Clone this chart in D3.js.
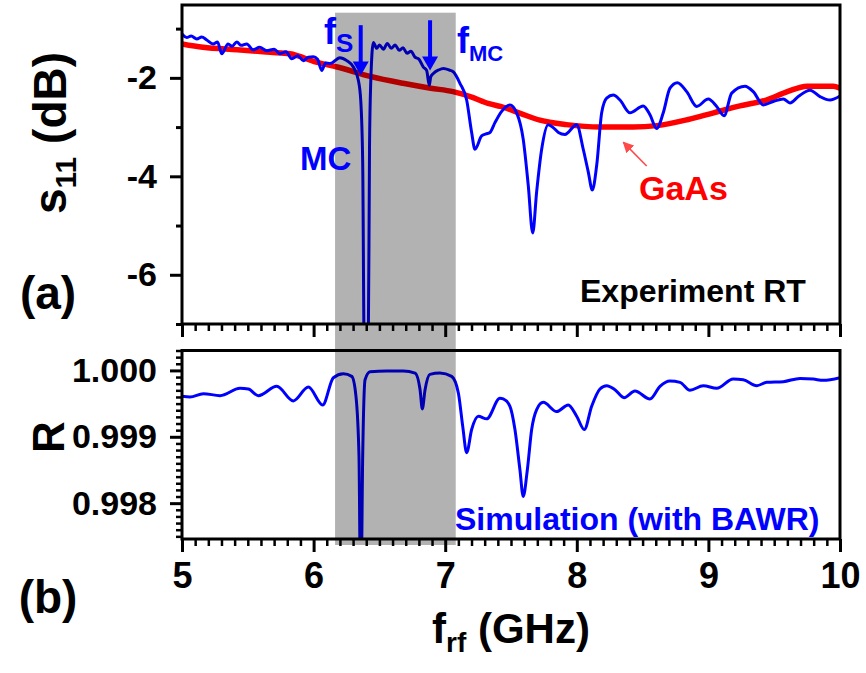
<!DOCTYPE html>
<html>
<head>
<meta charset="utf-8">
<script src="https://cdn.jsdelivr.net/npm/d3@7"></script>
<style>
  body { margin: 0; background: #fff; }
  svg text { font-family: "Liberation Sans", Arial, sans-serif; font-weight: bold; }
</style>
</head>
<body>
<svg id="chart" width="866" height="673"></svg>
<script>
// GaAs reference (red), s11 in dB vs GHz
const gaasFreq = [5.0, 5.16, 5.42, 5.67, 5.82, 6.02, 6.18, 6.43, 6.68, 6.89, 7.06, 7.19, 7.34, 7.42, 7.57, 7.72, 7.92, 8.18, 8.43, 8.61, 8.84, 9.04, 9.24, 9.44, 9.6, 9.75, 9.95, 10.0];
const gaasS11 = [-1.31, -1.38, -1.43, -1.48, -1.51, -1.68, -1.78, -1.97, -2.11, -2.21, -2.28, -2.38, -2.53, -2.58, -2.72, -2.86, -2.95, -3.0, -3.0, -2.97, -2.85, -2.71, -2.57, -2.45, -2.28, -2.17, -2.17, -2.21];

// microcavity sample (blue), s11 in dB vs GHz
const mcFreq = [5.0, 5.036, 5.07, 5.112, 5.15, 5.188, 5.236, 5.27, 5.302, 5.35, 5.38, 5.416, 5.45, 5.492, 5.54, 5.59, 5.644, 5.70, 5.745, 5.79, 5.834, 5.88, 5.922, 5.96, 5.998, 6.03, 6.062, 6.09, 6.125, 6.2, 6.252, 6.302, 6.34, 6.358, 6.373, 6.385, 6.415, 6.425, 6.434, 6.454, 6.48, 6.50, 6.53, 6.56, 6.59, 6.62, 6.65, 6.68, 6.71, 6.74, 6.77, 6.80, 6.834, 6.859, 6.879, 6.89, 6.91, 6.95, 6.986, 7.03, 7.062, 7.112, 7.163, 7.201, 7.226, 7.277, 7.31, 7.34, 7.378, 7.429, 7.492, 7.543, 7.593, 7.631, 7.665, 7.695, 7.733, 7.783, 7.821, 7.86, 7.91, 7.999, 8.049, 8.087, 8.118, 8.151, 8.189, 8.227, 8.277, 8.328, 8.404, 8.505, 8.556, 8.607, 8.657, 8.708, 8.764, 8.835, 8.911, 8.999, 9.063, 9.119, 9.177, 9.278, 9.341, 9.417, 9.493, 9.569, 9.62, 9.683, 9.772, 9.848, 9.924, 10.0];
const mcS11 = [-1.11, -1.18, -1.15, -1.21, -1.17, -1.23, -1.31, -1.27, -1.51, -1.31, -1.36, -1.27, -1.34, -1.31, -1.43, -1.38, -1.45, -1.42, -1.51, -1.47, -1.61, -1.55, -1.65, -1.58, -1.57, -1.62, -1.85, -1.70, -1.71, -1.59, -1.65, -1.78, -2.05, -2.45, -3.71, -7.6, -7.6, -3.38, -2.11, -1.28, -1.40, -1.33, -1.42, -1.30, -1.40, -1.33, -1.44, -1.39, -1.50, -1.46, -1.58, -1.62, -1.78, -1.85, -2.15, -1.98, -1.91, -1.84, -1.81, -1.84, -1.88, -2.11, -2.45, -3.11, -3.45, -3.18, -3.14, -3.11, -2.91, -2.68, -2.55, -2.71, -3.25, -4.18, -5.15, -4.31, -3.45, -2.95, -3.01, -3.11, -3.15, -2.95, -3.45, -3.91, -4.28, -3.78, -2.71, -2.41, -2.35, -2.45, -2.71, -2.57, -2.75, -3.03, -2.71, -2.21, -2.10, -2.28, -2.58, -2.43, -2.58, -2.77, -2.31, -2.17, -2.28, -2.55, -2.48, -2.43, -2.51, -2.38, -2.25, -2.38, -2.45, -2.37];

// simulated reflectance (blue), panel (b)
const simFreq = [5.0, 5.061, 5.162, 5.289, 5.441, 5.504, 5.58, 5.72, 5.846, 5.96, 6.069, 6.15, 6.226, 6.29, 6.322, 6.345, 6.355, 6.362, 6.373, 6.391, 6.429, 6.555, 6.682, 6.771, 6.809, 6.826, 6.847, 6.884, 6.96, 7.049, 7.1, 7.133, 7.163, 7.201, 7.252, 7.315, 7.416, 7.441, 7.492, 7.53, 7.568, 7.593, 7.624, 7.657, 7.695, 7.745, 7.847, 7.935, 7.999, 8.057, 8.113, 8.176, 8.227, 8.29, 8.359, 8.442, 8.556, 8.632, 8.708, 8.784, 8.86, 8.961, 9.063, 9.189, 9.265, 9.367, 9.443, 9.569, 9.696, 9.797, 9.873, 10.0];
const simR = [0.99961, 0.99960, 0.99965, 0.99962, 0.99973, 0.99972, 0.99962, 0.99976, 0.99954, 0.99975, 0.99948, 0.99989, 0.99995, 0.99991, 0.99961, 0.99870, 0.9970, 0.9970, 0.99870, 0.99986, 0.99998, 0.99999, 0.99999, 0.99996, 0.99971, 0.99942, 0.99971, 0.99994, 0.99996, 0.99991, 0.99966, 0.99916, 0.99876, 0.99911, 0.99931, 0.99927, 0.99958, 0.99957, 0.99946, 0.99911, 0.99850, 0.99810, 0.99850, 0.99911, 0.99941, 0.99952, 0.99938, 0.99948, 0.99931, 0.99911, 0.99946, 0.99972, 0.99977, 0.99971, 0.99959, 0.99969, 0.99957, 0.99976, 0.99984, 0.99982, 0.99970, 0.99977, 0.99973, 0.99987, 0.99986, 0.99977, 0.99982, 0.99983, 0.99988, 0.99987, 0.99985, 0.99989];

// tick values
const xMajor = [5, 6, 7, 8, 9, 10];
const s11Major = [-2, -4, -6];
const s11Minor = [-1, -3, -5, -7];
const rMajor = [0.998, 0.999, 1.000];

// shaded band (GHz)
const band = [6.163, 7.08];

const FONT = "'Liberation Sans', Arial, sans-serif";
const svg = d3.select("#chart");

const x = d3.scaleLinear().domain([5, 10]).range([182, 840]);
const yTop = d3.scaleLinear().domain([-7, -0.52]).range([324, 5]);
const yBot = d3.scaleLinear().domain([0.99746, 1.0003]).range([539, 350.5]);

const xMinor = d3.range(50, 101).map(d => d / 10).filter(d => !xMajor.includes(d));
const rMinor = d3.range(9975, 10004).map(d => d / 10000).filter(d => !rMajor.some(m => Math.abs(m - d) < 1e-9));

// clip paths + marker
const defs = svg.append("defs");
defs.append("clipPath").attr("id", "clipTop").append("rect")
    .attr("x", 182).attr("y", 5).attr("width", 658).attr("height", 319);
defs.append("clipPath").attr("id", "clipBot").append("rect")
    .attr("x", 182).attr("y", 350.5).attr("width", 658).attr("height", 188.5);
defs.append("marker").attr("id", "redHead")
    .attr("viewBox", "0 0 10 10").attr("refX", 9).attr("refY", 5)
    .attr("markerUnits", "userSpaceOnUse")
    .attr("markerWidth", 11).attr("markerHeight", 11).attr("orient", "auto")
    .append("path").attr("d", "M0,0L10,5L0,10Z").attr("fill", "#ff4a4a");

// lines
const gaasData = gaasFreq.map((f, i) => ({ f, v: gaasS11[i] }));
const mcData = mcFreq.map((f, i) => ({ f, v: mcS11[i] }));
const simData = simFreq.map((f, i) => ({ f, v: simR[i] }));

const topLine = d3.line().x(d => x(d.f)).y(d => yTop(d.v)).curve(d3.curveMonotoneX);
const botLine = d3.line().x(d => x(d.f)).y(d => yBot(d.v)).curve(d3.curveMonotoneX);

svg.append("path").datum(gaasData)
    .attr("clip-path", "url(#clipTop)")
    .attr("d", topLine)
    .attr("fill", "none").attr("stroke", "#ff0000").attr("stroke-width", 5.5);

svg.append("path").datum(mcData)
    .attr("clip-path", "url(#clipTop)")
    .attr("d", topLine)
    .attr("fill", "none").attr("stroke", "#0000ff").attr("stroke-width", 3)
    .attr("stroke-linejoin", "round");

svg.append("path").datum(simData)
    .attr("clip-path", "url(#clipBot)")
    .attr("d", botLine)
    .attr("fill", "none").attr("stroke", "#0000ff").attr("stroke-width", 3);

// grey band overlay (darkens the lines beneath it)
svg.append("rect")
    .attr("x", x(band[0])).attr("y", 12.7)
    .attr("width", x(band[1]) - x(band[0])).attr("height", 545 - 12.7)
    .attr("fill", "#000").attr("fill-opacity", 0.3);

// axes helpers
function tickAxis(axisFn, scale, values, size) {
    return axisFn(scale).tickValues(values).tickSize(size).tickFormat("");
}

function styleAxis(g, w, fontSize) {
    g.select(".domain").remove();
    g.selectAll(".tick line").attr("stroke", "#000").attr("stroke-width", w);
    g.selectAll(".tick text")
        .attr("font-size", fontSize || 36).attr("fill", "#000")
        .style("font-family", FONT).style("font-weight", "bold");
}

// panel (a) x ticks
svg.append("g").attr("transform", "translate(0,324)")
    .call(tickAxis(d3.axisBottom, x, xMinor, 7)).call(g => styleAxis(g, 2.5));
svg.append("g").attr("transform", "translate(0,324)")
    .call(tickAxis(d3.axisBottom, x, xMajor, 13)).call(g => styleAxis(g, 3));

// panel (b) x ticks + labels
svg.append("g").attr("transform", "translate(0,539)")
    .call(tickAxis(d3.axisBottom, x, xMinor, 7)).call(g => styleAxis(g, 2.5));
svg.append("g").attr("transform", "translate(0,539)")
    .call(d3.axisBottom(x).tickValues(xMajor).tickSize(13).tickPadding(10).tickFormat(d3.format("d")))
    .call(g => styleAxis(g, 3, 36));

// panel (a) y ticks
svg.append("g").attr("transform", "translate(182,0)")
    .call(tickAxis(d3.axisLeft, yTop, s11Minor, 6)).call(g => styleAxis(g, 3));
svg.append("g").attr("transform", "translate(182,0)")
    .call(d3.axisLeft(yTop).tickValues(s11Major).tickSize(12).tickPadding(13).tickFormat(d => d))
    .call(g => styleAxis(g, 3, 34));

// panel (b) y ticks
svg.append("g").attr("transform", "translate(182,0)")
    .call(tickAxis(d3.axisLeft, yBot, rMinor, 6)).call(g => styleAxis(g, 2.5));
svg.append("g").attr("transform", "translate(182,0)")
    .call(d3.axisLeft(yBot).tickValues(rMajor).tickSize(12).tickPadding(13).tickFormat(d3.format(".3f")))
    .call(g => styleAxis(g, 3, 34));

// frames
svg.append("rect").attr("x", 182).attr("y", 5).attr("width", 658).attr("height", 319)
    .attr("fill", "none").attr("stroke", "#000").attr("stroke-width", 3);
svg.append("rect").attr("x", 182).attr("y", 350.5).attr("width", 658).attr("height", 188.5)
    .attr("fill", "none").attr("stroke", "#000").attr("stroke-width", 3);

// arrows for fS and fMC
function downArrow(f, v0, v1, color) {
    const px = x(f), p0 = yTop(v0), p1 = yTop(v1);
    svg.append("line").attr("x1", px).attr("x2", px).attr("y1", p0).attr("y2", p1 - 10)
        .attr("stroke", color).attr("stroke-width", 4);
    svg.append("path")
        .attr("d", `M${px - 8},${p1 - 14}L${px + 8},${p1 - 14}L${px},${p1}Z`)
        .attr("fill", color);
}
downArrow(6.358, -0.93, -1.95, "#0000ff");
downArrow(6.885, -0.83, -1.85, "#0000ff");

// GaAs pointer
svg.append("line")
    .attr("x1", x(8.531)).attr("y1", yTop(-3.79))
    .attr("x2", x(8.354)).attr("y2", yTop(-3.31))
    .attr("stroke", "#ff4a4a").attr("stroke-width", 1.6)
    .attr("marker-end", "url(#redHead)");

// text annotations
const txt = (xp, yp, s, size, color, anchor) => svg.append("text")
    .attr("x", xp).attr("y", yp).attr("font-size", size)
    .attr("fill", color).attr("text-anchor", anchor || "start").text(s);

const fs = txt(324, 44, "f", 36, "#0000ff");
fs.append("tspan").attr("dy", 8).attr("font-size", 26).text("S");

const fmc = txt(457, 53, "f", 36, "#0000ff");
fmc.append("tspan").attr("dy", 8).attr("font-size", 22).text("MC");

txt(300, 170, "MC", 33, "#0000ff");
txt(639, 200, "GaAs", 34, "#ff0000");
txt(580, 302, "Experiment RT", 32, "#000");
txt(455, 530, "Simulation (with BAWR)", 32, "#0000ff");

txt(48, 309, "(a)", 46, "#000", "middle");
txt(48, 613, "(b)", 46, "#000", "middle");

// axis titles
const s11Title = svg.append("text")
    .attr("transform", "translate(66,133) rotate(-90)")
    .attr("text-anchor", "middle").attr("font-size", 46).attr("fill", "#000");
s11Title.append("tspan").text("s");
s11Title.append("tspan").attr("dy", 10).attr("font-size", 30).text("11");
s11Title.append("tspan").attr("dy", -10).text(" (dB)");

svg.append("text")
    .attr("transform", "translate(64,437) rotate(-90)")
    .attr("text-anchor", "middle").attr("font-size", 44).attr("fill", "#000").text("R");

const xTitle = svg.append("text")
    .attr("x", 511).attr("y", 643).attr("text-anchor", "middle")
    .attr("font-size", 42).attr("fill", "#000");
xTitle.append("tspan").text("f");
xTitle.append("tspan").attr("dy", 9).attr("font-size", 28).text("rf");
xTitle.append("tspan").attr("dy", -9).text(" (GHz)");
</script>
</body>
</html>
